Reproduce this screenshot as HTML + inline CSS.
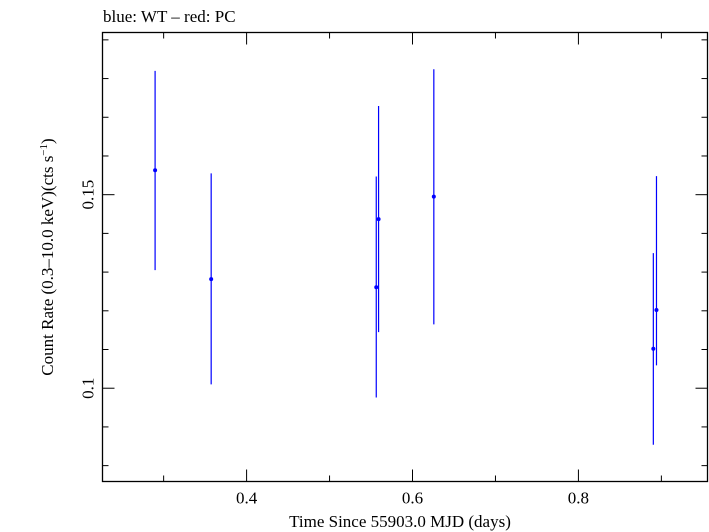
<!DOCTYPE html>
<html><head><meta charset="utf-8"><style>
html,body{margin:0;padding:0;background:#fff;}
svg{display:block;font-family:"Liberation Serif",serif;}
</style></head><body>
<svg id="chart" width="709" height="532" viewBox="0 0 709 532">
<text x="103" y="22" font-size="17">blue: WT – red: PC</text>
<rect x="102.5" y="32.5" width="605" height="449" fill="none" stroke="#000" stroke-width="1.3"/>
<g id="ticks"></g>
<g id="marks"></g>
<text x="400" y="527" font-size="17" text-anchor="middle">Time Since 55903.0 MJD (days)</text>
<text transform="translate(53,257) rotate(-90)" font-size="17" text-anchor="middle">Count Rate (0.3–10.0 keV)(cts s<tspan dy="-6" font-size="11">−1</tspan><tspan dy="6">)</tspan></text>
</svg>
<script>
const times=[0.2897,0.3573,0.5563,0.5591,0.6257,0.8903,0.8941];
const rates=[0.1563,0.1282,0.1261,0.1437,0.1495,0.1102,0.1202];
const errLo=[0.1305,0.1010,0.0976,0.1145,0.1165,0.0854,0.1059];
const errHi=[0.1820,0.1555,0.1547,0.1729,0.1824,0.1349,0.1548];
const xMajor=[0.4,0.6,0.8];
const xMajorLabels=["0.4","0.6","0.8"];
const xMinor=[0.3,0.5,0.7,0.9];
const yMajor=[0.1,0.15];
const yMajorLabels=["0.1","0.15"];
const yMinor=[0.08,0.09,0.11,0.12,0.13,0.14,0.16,0.17,0.18,0.19];

const L=102.5,R=707.5,T=32.5,B=481.5;
const X0=0.2263,X1=0.9556,Y0=0.0759,Y1=0.1919;
const sx=v=>L+(v-X0)/(X1-X0)*(R-L);
const sy=v=>B-(v-Y0)/(Y1-Y0)*(B-T);
const NS="http://www.w3.org/2000/svg";
const tg=document.getElementById('ticks'), mg=document.getElementById('marks');
function line(g,x1,y1,x2,y2,c,w){const l=document.createElementNS(NS,'line');l.setAttribute('x1',x1);l.setAttribute('y1',y1);l.setAttribute('x2',x2);l.setAttribute('y2',y2);l.setAttribute('stroke',c);l.setAttribute('stroke-width',w);g.appendChild(l);return l;}
xMajor.forEach((v,i)=>{const x=sx(v);
const a=line(tg,x,B,x,B-12,'#000',1);


const b=line(tg,x,T,x,T+12,'#000',1);


const t=document.createElementNS(NS,'text');t.setAttribute('x',x);t.setAttribute('y',B+22);t.setAttribute('font-size','17');t.setAttribute('text-anchor','middle');t.textContent=xMajorLabels[i];


tg.appendChild(t);});
xMinor.forEach(v=>{const x=sx(v);
const a=line(tg,x,B,x,B-6,'#000',1);


const b=line(tg,x,T,x,T+6,'#000',1);

});
yMajor.forEach((v,i)=>{const y=sy(v);
const a=line(tg,L,y,L+12,y,'#000',1);


const b=line(tg,R,y,R-12,y,'#000',1);


const t=document.createElementNS(NS,'text');t.setAttribute('transform','translate('+(L-9)+','+y+') rotate(-90)');t.setAttribute('font-size','17');t.setAttribute('text-anchor','middle');t.textContent=yMajorLabels[i];


tg.appendChild(t);});
yMinor.forEach(v=>{const y=sy(v);
const a=line(tg,L,y,L+6,y,'#000',1);


const b=line(tg,R,y,R-6,y,'#000',1);

});
times.forEach((t,i)=>{const x=sx(t);
const e=line(mg,x,sy(errHi[i]),x,sy(errLo[i]),'#0000ff',1.2);


const c=document.createElementNS(NS,'circle');c.setAttribute('cx',x);c.setAttribute('cy',sy(rates[i]));c.setAttribute('r','2');c.setAttribute('fill','#0000ff');


mg.appendChild(c);});
</script>
</body></html>
